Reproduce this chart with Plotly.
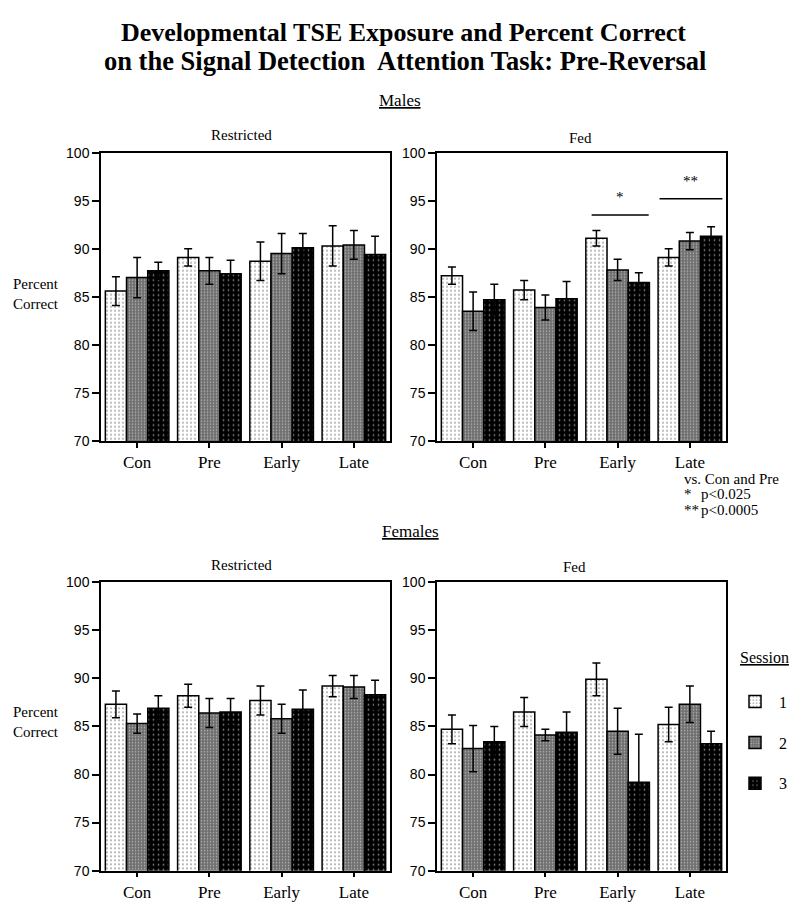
import plotly.graph_objects as go
from plotly.subplots import make_subplots

# categories and sessions
groups = ["Con", "Pre", "Early", "Late"]
sessions = ["1", "2", "3"]

# mean percent correct per session (Con, Pre, Early, Late)
male_restricted = [[85.6, 89.1, 88.7, 90.3], [87.0, 87.7, 89.5, 90.4], [87.7, 87.4, 90.1, 89.4]]
male_restricted_err = [[1.5, 0.9, 2.0, 2.1], [2.1, 1.4, 2.1, 1.5], [0.9, 1.4, 1.5, 1.9]]

male_fed = [[87.2, 85.7, 91.1, 89.1], [83.5, 83.9, 87.8, 90.8], [84.7, 84.8, 86.5, 91.3]]
male_fed_err = [[0.9, 1.0, 0.8, 0.9], [2.0, 1.3, 1.1, 0.9], [1.6, 1.8, 1.0, 1.0]]

female_restricted = [[87.3, 88.2, 87.7, 89.2], [85.3, 86.4, 85.8, 89.1], [86.9, 86.5, 86.8, 88.3]]
female_restricted_err = [[1.4, 1.2, 1.5, 1.1], [1.0, 1.5, 1.5, 1.2], [1.3, 1.4, 2.0, 1.5]]

female_fed = [[84.7, 86.5, 89.9, 85.2], [82.7, 84.1, 84.5, 87.3], [83.4, 84.4, 79.2, 83.2]]
female_fed_err = [[1.5, 1.5, 1.7, 1.8], [2.4, 0.6, 2.4, 1.9], [1.6, 2.1, 5.0, 1.3]]

# significance marks on the male fed panel: (from, to, y, label)
sig_marks = [(1.64, 2.43, 93.5, "*"), (2.58, 3.45, 95.2, "**")]

# significance key
key_head = "vs. Con and Pre"
key_marks = ["*", "**"]
key_levels = ["p&lt;0.025", "p&lt;0.0005"]

W, H = 784, 894
OFF = 8

patterns = [
    dict(shape=".", bgcolor="white", fgcolor="black", size=4, solidity=0.14),
    dict(shape=".", bgcolor="#707070", fgcolor="white", size=3, solidity=0.2),
    dict(shape=".", bgcolor="black", fgcolor="white", size=5, solidity=0.1),
]

panels = [
    (1, 1, male_restricted, male_restricted_err),
    (1, 2, male_fed, male_fed_err),
    (2, 1, female_restricted, female_restricted_err),
    (2, 2, female_fed, female_fed_err),
]

fig = make_subplots(rows=2, cols=2)

for i, (r, c, vals, errs) in enumerate(panels):
    for s, name in enumerate(sessions):
        fig.add_trace(
            go.Bar(
                x=groups,
                y=vals[s],
                name=name,
                legendgroup=name,
                showlegend=(i == 0),
                marker=dict(color="white", pattern=patterns[s],
                            line=dict(color="black", width=1.5)),
                error_y=dict(type="data", array=errs[s], color="black",
                             thickness=1.5, width=4),
            ),
            row=r, col=c,
        )


# picture pixels (as in the reference) -> paper fractions
def px(x):
    return (x - OFF) / W


def py(y):
    y = 153 + (y - 153) * 1.007
    fy = (y - 7.8) / 0.982 - OFF
    return 1 - fy / H


xdom_left = [px(101), px(390)]
xdom_right = [px(437), px(726)]
ydom_top = [py(444), py(154)]
ydom_bot = [py(876), py(586)]

fig.update_layout(
    xaxis=dict(domain=xdom_left), yaxis=dict(domain=ydom_top),
    xaxis2=dict(domain=xdom_right), yaxis2=dict(domain=ydom_top),
    xaxis3=dict(domain=xdom_left), yaxis3=dict(domain=ydom_bot),
    xaxis4=dict(domain=xdom_right), yaxis4=dict(domain=ydom_bot),
)

fig.update_xaxes(
    showline=True, mirror=True, linecolor="black", linewidth=1.5,
    ticks="outside", ticklen=5, tickwidth=1.5, tickcolor="black",
    showgrid=False, range=[-0.5, 3.5],
    tickfont=dict(family="Liberation Serif", size=17, color="black"),
)
fig.update_yaxes(
    showline=True, mirror=True, linecolor="black", linewidth=1.5,
    ticks="outside", ticklen=7, tickwidth=1.5, tickcolor="black",
    showgrid=False, zeroline=False, range=[70, 100], dtick=5,
    tickfont=dict(family="Liberation Sans", size=14, color="black"),
)

serif = "Liberation Serif"
ann = []


def text(x, y, t, size, align="center", xanchor="center"):
    ann.append(dict(
        x=px(x), y=py(y), xref="paper", yref="paper", text=t, showarrow=False,
        xanchor=xanchor, yanchor="middle", align=align,
        font=dict(family=serif, size=size, color="black"),
    ))


# title: first line pinned to the top edge, second line just below it
ann.append(dict(
    x=px(404), y=1, xref="paper", yref="paper", showarrow=False,
    xanchor="center", yanchor="top",
    text="<b>Developmental TSE Exposure and Percent Correct</b>",
    font=dict(family=serif, size=26, color="black"),
))
ann.append(dict(
    x=px(405), y=1 - 46 / H, xref="paper", yref="paper", showarrow=False,
    xanchor="center", yanchor="middle",
    text="<b>on the Signal Detection  Attention Task: Pre-Reversal</b>",
    font=dict(family=serif, size=26.5, color="black"),
))
text(400, 102, "<u>Males</u>", 17)
text(410, 535, "<u>Females</u>", 17)
text(241, 136, "Restricted", 15)
text(580, 139, "Fed", 15)
text(241, 569, "Restricted", 15)
text(574, 571, "Fed", 15)
text(36, 296, "Percent<br>Correct", 15)
text(36, 727, "Percent<br>Correct", 15)
text(682, 482, key_head, 15, xanchor="left")
for k, (mark, level) in enumerate(zip(key_marks, key_levels)):
    text(682, 497 + 16 * k, mark, 15, xanchor="left")
    text(699, 497 + 16 * k, level, 15, xanchor="left")
text(764, 662, "<u>Session</u>", 16)

for x0, x1, y, label in sig_marks:
    fig.add_shape(type="line", xref="x2", yref="y2", x0=x0, x1=x1, y0=y, y1=y,
                  line=dict(color="black", width=1.5))
    fig.add_annotation(x=(x0 + x1) / 2, y=y + 1.9, xref="x2", yref="y2", text=label,
                       showarrow=False, font=dict(family=serif, size=15, color="black"))

fig.update_layout(
    width=W, height=H,
    margin=dict(l=0, r=0, t=0, b=0),
    plot_bgcolor="white", paper_bgcolor="white",
    barmode="group", bargap=0.12, bargroupgap=0,
    annotations=list(fig.layout.annotations) + ann,
    legend=dict(
        x=px(731), y=py(689), xanchor="left", yanchor="top",
        font=dict(family=serif, size=16, color="black"),
        tracegroupgap=17, itemwidth=38,
        bgcolor="rgba(0,0,0,0)",
    ),
)

fig.write_html("out.html")
